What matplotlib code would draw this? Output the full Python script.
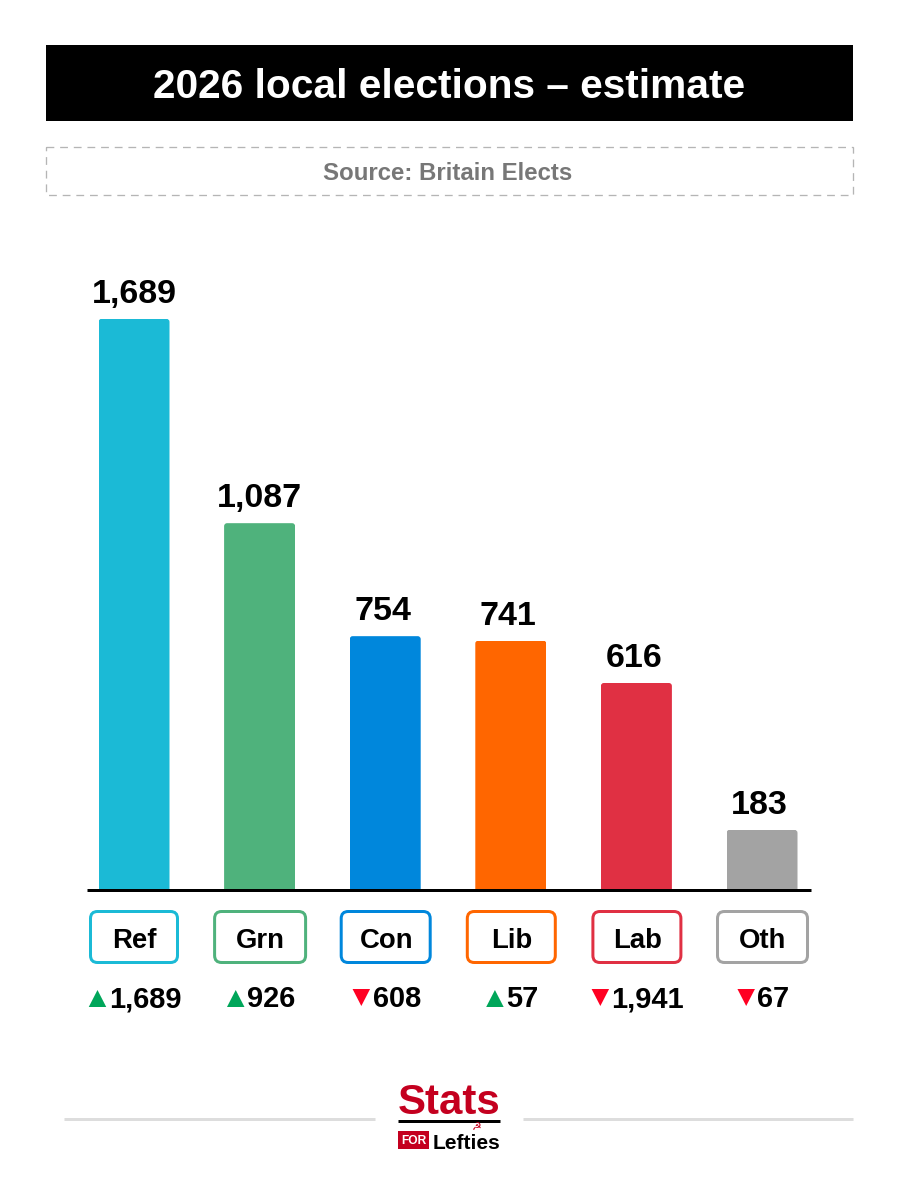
import matplotlib
matplotlib.use("Agg")
import matplotlib.pyplot as plt
from matplotlib.patches import FancyBboxPatch, Rectangle, Polygon

parties = ["Ref", "Grn", "Con", "Lib", "Lab", "Oth"]
seats = [1689, 1087, 754, 741, 616, 183]
changes = [1689, 926, 608, 57, 1941, 67]
directions = ["up", "up", "down", "up", "down", "down"]
colors = ["#1BBAD6", "#4FB27C", "#0087DC", "#FF6600", "#E03043", "#A3A3A3"]
box_widths = [90, 94, 92, 91, 91, 93]

W, H = 898, 1200
FONT = "Liberation Sans"
plt.rcParams["font.family"] = [FONT, "DejaVu Sans"]
px = 72 / 100  # points per pixel

fig = plt.figure(figsize=(W / 100, H / 100), dpi=100, facecolor="white")

# overlay in pixel coordinates, drawn above the bars
ov = fig.add_axes([0, 0, 1, 1], zorder=2)
ov.set_xlim(0, W); ov.set_ylim(H, 0); ov.axis("off")

# bars axes
left, right, base, top = 87, 811, 892, 250
ax = fig.add_axes([left / W, 1 - base / H, (right - left) / W, (base - top) / H], zorder=1)
ax.patch.set_alpha(0)
unit = 125.6
ax.set_xlim((left - 134) / unit, (right - 134) / unit)
ax.set_ylim(0, (base - top) / 0.3393)
ax.axis("off")
xs = list(range(len(parties)))
bars = ax.bar(xs, seats, width=71 / unit, color=colors, linewidth=0)
fig.canvas.draw()
rend = fig.canvas.get_renderer()


def to_px(x, y):
    a, b = ax.transData.transform((x, y))
    return a, H - b


for b, v in zip(bars, seats):
    x0, y0 = to_px(b.get_x(), v)
    x1, _ = to_px(b.get_x() + b.get_width(), v)
    clip = FancyBboxPatch((x0 + 3, y0 + 3), x1 - x0 - 6, base - y0 + 10,
                          boxstyle="round,pad=3,rounding_size=3",
                          transform=ov.transData, facecolor="none", edgecolor="none")
    ov.add_patch(clip)
    b.set_clip_path(clip)
    nudge = 0 if v >= 1000 else -2.5
    ax.annotate(f"{v:,}", (b.get_x() + b.get_width() / 2, v), xytext=(nudge * px, 6.5),
                textcoords="offset points", ha="center", va="bottom",
                fontsize=34 * px, fontweight="bold", color="black")

# baseline, with white below it hiding the bar feet
ov.add_patch(Rectangle((left, 889), right - left, 8, facecolor="white", edgecolor="none"))
ov.plot([left, right], [889.5, 889.5], color="black", lw=3 * px, solid_capstyle="butt", zorder=5)

# header
ov.add_patch(Rectangle((46, 45), 807, 76, facecolor="black", edgecolor="none"))
ov.text(449, 83, "2026 local elections – estimate", color="white", ha="center", va="center_baseline",
        fontsize=40.6 * px, fontweight="bold")
ov.add_patch(Rectangle((46, 147), 806.5, 48, facecolor="none", edgecolor="#B5B5B5",
                       lw=1.3 * px, linestyle=(0, (6, 4.5))))
ov.text(448, 170.5, "Source: Britain Elects", color="#777777", ha="center", va="center_baseline",
        fontsize=24 * px, fontweight="bold")

# party boxes and change labels
for x, name, c, bw, ch, d in zip(xs, parties, colors, box_widths, changes, directions):
    cx, _ = to_px(x, 0)
    cx += 0.5 if x else 0
    hw = (bw - 3) / 2
    r = 7
    ov.add_patch(FancyBboxPatch((cx - hw + r, 911.5 + r), 2 * hw - 2 * r, 51 - 2 * r,
                                boxstyle=f"round,pad={r},rounding_size={r}",
                                facecolor="white", edgecolor=c, lw=3 * px))
    ov.text(cx + 0.5, 937.5, name, ha="center", va="center_baseline", fontsize=27.5 * px,
            fontweight="bold", color="black")
    t = ov.text(0, 1007, f"{ch:,}", ha="left", va="baseline", fontsize=29 * px,
                fontweight="bold", color="black")
    tw = t.get_window_extent(rend).width
    tri = 17.5
    gap = 2.5
    x0 = cx + 1 - (tri + gap + tw) / 2
    t.set_x(x0 + tri + gap)
    if d == "up":
        pts = [(x0, 1007), (x0 + tri, 1007), (x0 + tri / 2, 990)]
        col = "#00A65A"
    else:
        pts = [(x0, 989), (x0 + tri, 989), (x0 + tri / 2, 1006)]
        col = "#FF0022"
    ov.add_patch(Polygon(pts, closed=True, facecolor=col, edgecolor="none"))

# footer
for a, b_ in [(64, 375), (523, 853)]:
    ov.plot([a, b_], [1118.5, 1118.5], color="#DDDDDD", lw=3 * px, solid_capstyle="butt")
red = "#C4001F"
ov.text(449, 1114, "Stats", ha="center", va="baseline", fontweight="bold",
        fontsize=42 * px, color=red)
ov.plot([398, 500], [1120.5, 1120.5], color="black", lw=3 * px, solid_capstyle="butt")
ov.add_patch(Rectangle((398, 1131), 31, 18, facecolor=red, edgecolor="none"))
ov.text(413.5, 1140, "FOR", ha="center", va="center_baseline", color="white", fontweight="bold",
        fontsize=12 * px)
ov.text(433, 1149, "Lefties", ha="left", va="baseline", fontweight="bold",
        fontsize=21 * px, color="black")
ov.text(476, 1127, "☭", ha="center", va="center", family="DejaVu Sans", fontsize=11 * px, color=red)

fig.savefig("out.png", dpi=100, facecolor="white")
